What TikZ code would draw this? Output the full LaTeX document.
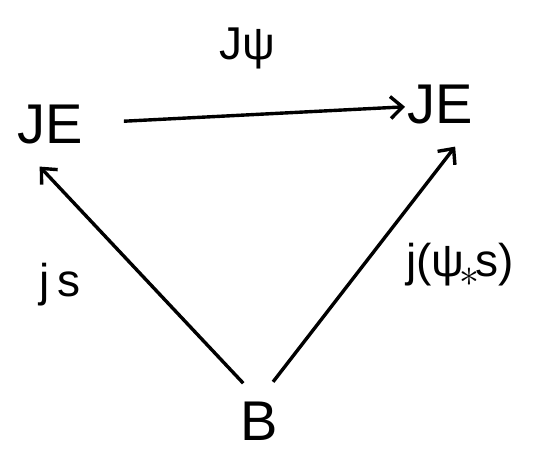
\documentclass[tikz,border=0pt]{standalone}
\usepackage{fontspec}
\setmainfont{Liberation Sans}
\usetikzlibrary{arrows.meta,calc}
\tikzset{
  obj/.style={inner sep=2pt,font=\fontsize{56}{60}\selectfont},
  lbl/.style={inner sep=0pt,font=\fontsize{46}{50}\selectfont},
  map/.style={-{Straight Barb[length=12pt,width=22pt]},line width=3.4pt}
}

\begin{document}
\begin{tikzpicture}[x=1pt,y=-1pt]
        \useasboundingbox (0,0) rectangle (550,451);
        % The objects sit at the corners of the triangle.
        \node[obj] (je1) at (50,125) {JE};
        \node[obj] (je2) at (440,105) {JE};
        \node[obj] (b) at (259,421) {B};
        \node[lbl] (psi) at (247,48) {Jψ};
        \node[lbl] (js) at (60,285) {j\,s};
        \node[lbl] (jpsis) at (460,265) {j(ψ\kern-5pt\raisebox{-10pt}{\scalebox{1.6}{$\ast$}}\kern-4pt s)};
        \draw[map,shorten <=74pt,shorten >=35pt] (je1.center) -- (je2.center);
        \draw[map,shorten <=23pt,shorten >=20pt] ($(b)+(0,-21)$) -- ($(je1)+(-24,27)$);
        \draw[map,shorten <=23pt,shorten >=21pt] ($(b)+(0,-21)$) -- ($(je2)+(28,25)$);
      \end{tikzpicture}
\end{document}
